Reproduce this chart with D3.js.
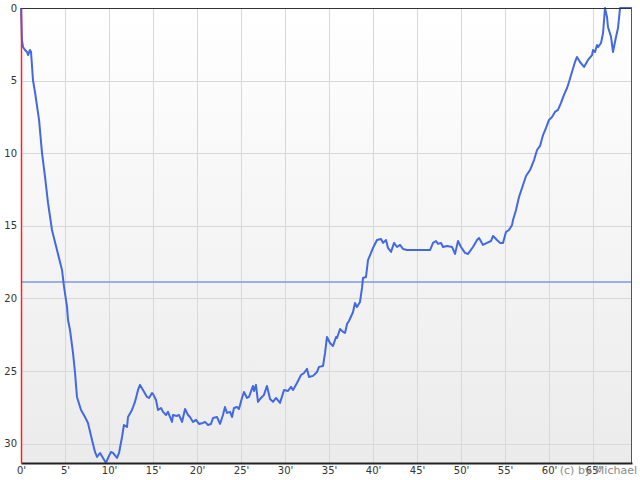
<!DOCTYPE html>
<meta charset="utf-8">
<style>
body { margin: 0; background: #fff; }
.tick text { font: 10px "DejaVu Sans", sans-serif; fill: #333; }
.grid line { stroke: #d8d8d8; stroke-width: 1px; }
.profile { fill: none; stroke: #4169e1; stroke-width: 2px; stroke-linejoin: round; }
.avg { stroke: #7d97e3; stroke-width: 1.5px; }
.copy { font: 11px "DejaVu Sans", sans-serif; fill: #8a8a8a; }
</style>
<body>
<script src="https://d3js.org/d3.v7.min.js"></script>
<script>

// dive time in minutes
var minutes = [0, 0.11, 0.23, 0.45, 0.68, 0.80, 1.02, 1.14, 1.36, 1.59, 2.05, 2.39, 2.73, 3.07, 3.52, 4.09, 4.66, 4.89, 5.23, 5.34,
  5.57, 5.91, 6.14, 6.36, 6.82, 7.27, 7.61, 8.07, 8.41, 8.64, 8.98, 9.32, 9.66, 9.89, 10.23, 10.45, 10.91, 11.14,
  11.48, 11.70, 12.05, 12.16, 12.61, 12.95, 13.30, 13.52, 13.86, 14.32, 14.55, 14.89, 15.00, 15.34, 15.57, 15.91, 16.14, 16.48, 16.70, 17.16,
  17.27, 17.73, 17.95, 18.30, 18.64, 18.98, 19.20, 19.55, 19.89, 20.23, 20.68, 20.91, 21.25, 21.59, 21.82, 22.27, 22.61, 22.95, 23.18, 23.41,
  23.75, 23.98, 24.20, 24.55, 24.77, 25.11, 25.34, 25.68, 25.91, 26.36, 26.48, 26.70, 26.93, 27.27, 27.61, 27.95, 28.30, 28.64, 28.98, 29.43,
  29.89, 30.34, 30.68, 30.91, 31.36, 31.82, 32.16, 32.50, 32.73, 33.18, 33.64, 33.86, 34.32, 34.55, 34.77, 35.11, 35.45, 35.80, 35.91, 36.25,
  36.59, 36.82, 37.05, 37.27, 37.73, 37.95, 38.18, 38.52, 38.75, 38.86, 39.20, 39.43, 39.77, 40.00, 40.45, 40.91, 41.14, 41.48, 41.70, 42.05,
  42.39, 42.73, 43.07, 43.41, 43.86, 46.48, 46.82, 47.16, 47.39, 47.73, 47.95, 48.41, 48.98, 49.32, 49.66, 50.00, 50.45, 50.80, 51.36, 51.82,
  52.05, 52.50, 52.95, 53.41, 53.64, 54.09, 54.43, 54.77, 55.11, 55.45, 55.80, 55.91, 56.25, 56.59, 56.93, 57.39, 57.84, 58.30, 58.64, 58.98,
  59.32, 59.66, 60.00, 60.34, 60.68, 61.02, 61.36, 61.70, 62.05, 62.27, 62.61, 62.95, 63.18, 63.52, 63.98, 64.43, 64.89, 65.00, 65.23, 65.45,
  65.57, 65.91, 66.14, 66.36, 66.59, 66.70, 67.05, 67.27, 67.61, 67.84, 68.07, 69.43];

// depth in metres
var depth = [0, 2.20, 2.69, 2.89, 3.03, 3.24, 2.89, 3.03, 4.96, 5.79, 7.71, 9.99, 11.64, 13.43, 15.29, 16.67, 18.04, 19.21, 20.59, 21.49,
  22.18, 23.76, 25.14, 26.79, 27.69, 28.17, 28.58, 29.75, 30.58, 30.92, 30.65, 30.99, 31.34, 30.99, 30.58, 30.65, 30.99, 30.65,
  29.55, 28.72, 28.86, 28.17, 27.69, 27.13, 26.31, 25.96, 26.31, 26.79, 26.86, 26.52, 26.58, 27.00, 27.69, 27.55, 27.82, 28.03, 27.82, 28.51,
  28.03, 28.10, 28.03, 28.51, 27.62, 28.03, 28.17, 28.51, 28.37, 28.65, 28.58, 28.51, 28.72, 28.65, 28.24, 28.17, 28.65, 28.03, 27.48, 27.89,
  27.82, 28.17, 27.55, 27.48, 27.62, 26.86, 26.45, 26.86, 26.79, 26.03, 26.38, 25.96, 27.13, 26.86, 26.65, 26.03, 26.93, 27.13, 26.86, 27.20,
  26.31, 26.38, 26.10, 26.31, 25.83, 25.28, 25.14, 24.86, 25.41, 25.34, 25.07, 24.72, 24.66, 23.76, 22.66, 23.07, 23.28, 22.66, 22.73, 22.11,
  22.31, 22.38, 21.76, 21.56, 20.94, 20.32, 20.59, 20.25, 19.28, 18.60, 18.53, 17.36, 16.87, 16.53, 15.98, 15.91, 16.18, 15.98, 16.53, 16.80,
  16.18, 16.46, 16.32, 16.60, 16.67, 16.67, 16.18, 16.05, 16.25, 16.18, 16.46, 16.39, 16.46, 16.94, 16.05, 16.46, 16.87, 16.94, 16.46, 15.98,
  15.84, 16.32, 16.18, 16.05, 15.70, 15.98, 16.18, 16.18, 15.43, 15.29, 14.94, 14.60, 13.91, 13.02, 12.40, 11.57, 11.16, 10.47, 9.78, 9.50,
  8.75, 8.26, 7.71, 7.51, 7.16, 7.02, 6.54, 5.99, 5.51, 5.10, 4.41, 3.72, 3.37, 3.72, 4.06, 3.58, 3.24, 2.89, 3.03, 2.55,
  2.69, 2.41, 1.72, 0, 0.62, 1.31, 2.00, 3.03, 2.00, 1.38, 0, 0];

var avgDepth = 18.87;
var xTicks = [0, 5, 10, 15, 20, 25, 30, 35, 40, 45, 50, 55, 60, 65];
var yTicks = [0, 5, 10, 15, 20, 25, 30];

var margin = {top: 8, right: 8, bottom: 17, left: 21},
    width = 640,
    height = 480;

var x = d3.scaleLinear().domain([0, 69.43]).range([margin.left, width - margin.right]);
var y = d3.scaleLinear().domain([0, 31.34]).range([margin.top, height - margin.bottom]);

var svg = d3.select("body").append("svg")
    .attr("width", width)
    .attr("height", height);

var grad = svg.append("defs").append("linearGradient")
    .attr("id", "bg")
    .attr("x1", 0).attr("y1", 0).attr("x2", 0).attr("y2", 1);
grad.append("stop").attr("offset", "0%").attr("stop-color", "#ffffff");
grad.append("stop").attr("offset", "100%").attr("stop-color", "#ebebeb");

svg.append("rect")
    .attr("x", x(0))
    .attr("y", y(0))
    .attr("width", x(69.43) - x(0))
    .attr("height", y(31.34) - y(0))
    .style("fill", "url(#bg)");

// grid
svg.append("g").attr("class", "grid")
  .selectAll("line")
  .data(xTicks.slice(1))
  .enter().append("line")
    .attr("x1", function(d) { return x(d) + 0.5; })
    .attr("x2", function(d) { return x(d) + 0.5; })
    .attr("y1", y(0))
    .attr("y2", y(31.34));

svg.append("g").attr("class", "grid")
  .selectAll("line")
  .data(yTicks.slice(1))
  .enter().append("line")
    .attr("x1", x(0))
    .attr("x2", x(69.43))
    .attr("y1", function(d) { return Math.round(y(d)) + 0.5; })
    .attr("y2", function(d) { return Math.round(y(d)) + 0.5; });

// average depth
svg.append("line")
    .attr("class", "avg")
    .attr("x1", x(0))
    .attr("x2", x(69.43))
    .attr("y1", y(avgDepth))
    .attr("y2", y(avgDepth));

var line = d3.line()
    .x(function(d, i) { return x(minutes[i]); })
    .y(function(d) { return y(d); });

svg.append("path")
    .datum(depth)
    .attr("class", "profile")
    .attr("d", line);

// frame
svg.append("line").attr("x1", x(0)).attr("x2", x(69.43)).attr("y1", y(0) + 0.5).attr("y2", y(0) + 0.5)
    .style("stroke", "#333").style("stroke-width", 1);
svg.append("line").attr("x1", x(69.43) - 0.5).attr("x2", x(69.43) - 0.5).attr("y1", y(0)).attr("y2", y(31.34))
    .style("stroke", "#555").style("stroke-width", 1);

var xAxis = svg.append("g")
    .attr("transform", "translate(0," + y(31.34) + ")")
    .call(d3.axisBottom(x).tickValues(xTicks).tickSize(0).tickPadding(4)
      .tickFormat(function(d) { return d + "'"; }));
xAxis.select(".domain").style("stroke", "#222").style("stroke-width", 2);

var yAxis = svg.append("g")
    .attr("transform", "translate(" + x(0) + ",0)")
    .call(d3.axisLeft(y).tickValues(yTicks).tickSize(0).tickPadding(4));
yAxis.select(".domain").style("stroke", "#ff2020").style("stroke-width", 1.5);

// copyright note, overlapping the last tick label as in the original
svg.append("text")
    .attr("class", "copy")
    .attr("x", 637)
    .attr("y", 474)
    .attr("text-anchor", "end")
    .text("(c) by Michael");

</script>
</body>
